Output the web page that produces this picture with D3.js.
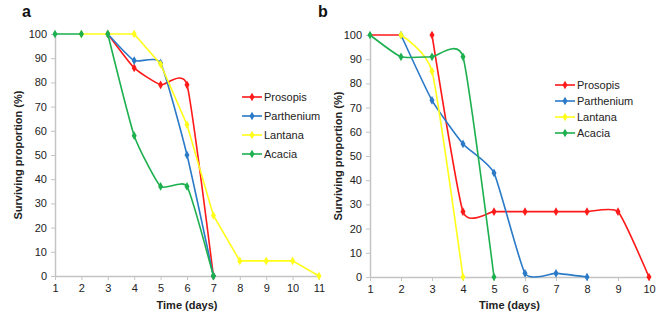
<!DOCTYPE html>
<html>
<head>
<meta charset="utf-8">
<script src="https://cdn.jsdelivr.net/npm/d3@7"></script>
<style>
  body { margin: 0; background: #fff; }
  svg text { font-family: "Liberation Sans", Arial, sans-serif; }
</style>
</head>
<body>
<div id="chart"></div>
<script>
"use strict";

// series names and colours
const seriesNames = ["Prosopis", "Parthenium", "Lantana", "Acacia"];
const seriesColors = ["#ff1a1a", "#2a7ac8", "#ffff1a", "#1db04f"];

// panel a: days 1..11
const daysA = [1, 2, 3, 4, 5, 6, 7, 8, 9, 10, 11];
const prosopisA = [null, null, 100, 86, 79, 79, 0, null, null, null, null];
const partheniumA = [null, null, 100, 89, 88, 50, 0, null, null, null, null];
const lantanaA = [null, 100, 100, 100, 87.5, 62.5, 25, 6.25, 6.25, 6.25, 0];
const acaciaA = [100, 100, null, 100, 58, 37, 37, 0];
// acacia gap: its point at day 3 starts a new segment
const acaciaDaysA = [1, 2, 2.5, 3, 4, 5, 6, 7];

// panel b: days 1..10
const daysB = [1, 2, 3, 4, 5, 6, 7, 8, 9, 10];
const prosopisB = [100, 100, null, 100, 27, 27, 27, 27, 27, 27, 0];
const prosopisDaysB = [1, 2, 2.5, 3, 4, 5, 6, 7, 8, 9, 10];
const partheniumB = [null, 100, 73, 55, 43, 1.5, 1.5, 0, null, null];
const lantanaB = [null, 100, 85, 0, null, null, null, null, null, null];
const acaciaB = [100, 91, 91, 91, 0, null, null, null, null, null];

const yTicks = [0, 10, 20, 30, 40, 50, 60, 70, 80, 90, 100];

const W = 669, H = 320;
const svg = d3.select("#chart").append("svg")
  .attr("width", W).attr("height", H);

const toPts = (xs, ys) => xs.map((d, i) => ({ x: d, y: ys[i] }));

const drawPanel = (opt) => {
  const x = d3.scaleLinear().domain(opt.xDomain).range(opt.xRange);
  const y = d3.scaleLinear().domain([0, 100]).range(opt.yRange);
  const g = svg.append("g");

  // axes
  const xAxis = g.append("g")
    .attr("transform", `translate(0,${opt.yRange[0]})`)
    .call(d3.axisBottom(x).tickValues(opt.xTicks).tickFormat(d3.format("d"))
      .tickSize(4).tickPadding(4).tickSizeOuter(0));
  const yAxis = g.append("g")
    .attr("transform", `translate(${opt.xRange[0]},0)`)
    .call(d3.axisLeft(y).tickValues(yTicks).tickSize(4).tickPadding(4).tickSizeOuter(0));
  [xAxis, yAxis].forEach(a => {
    a.select(".domain").attr("stroke", "#c4c4c4").attr("stroke-width", 1.5);
    a.selectAll(".tick line").attr("stroke", "#c4c4c4").attr("stroke-width", 1);
    a.selectAll(".tick text").attr("font-size", 11).attr("fill", "#222")
      .style("font-family", "Liberation Sans, Arial, sans-serif");
  });

  // series
  opt.series.forEach((s, i) => {
    const pts = toPts(s.days, s.values);
    const line = d3.line()
      .defined(d => d.y !== null)
      .x(d => x(d.x)).y(d => y(d.y))
      .curve(s.straight ? d3.curveLinear : d3.curveCardinal.tension(0.5));
    g.append("path")
      .attr("d", line(pts))
      .attr("fill", "none")
      .attr("stroke", seriesColors[i])
      .attr("stroke-width", 1.6);
    g.selectAll(null)
      .data(pts.filter(d => d.y !== null && s.marks.includes(d.x)))
      .enter().append("path")
      .attr("d", d3.symbol(d3.symbolDiamond, 22)())
      .attr("transform", d => `translate(${x(d.x)},${y(d.y)})`)
      .attr("fill", seriesColors[i]);
  });

  // legend
  seriesNames.forEach((name, i) => {
    const ly = opt.legend.y + i * opt.legend.dy;
    g.append("line")
      .attr("x1", opt.legend.x).attr("x2", opt.legend.x + 20)
      .attr("y1", ly).attr("y2", ly)
      .attr("stroke", seriesColors[i]).attr("stroke-width", 1.6);
    g.append("path")
      .attr("d", d3.symbol(d3.symbolDiamond, 22)())
      .attr("transform", `translate(${opt.legend.x + 10},${ly})`)
      .attr("fill", seriesColors[i]);
    g.append("text")
      .attr("x", opt.legend.x + 22).attr("y", ly + 4)
      .attr("font-size", 11).attr("fill", "#222")
      .text(name);
  });

  // titles
  g.append("text")
    .attr("x", (opt.xRange[0] + opt.xRange[1]) / 2).attr("y", 309)
    .attr("text-anchor", "middle").attr("font-size", 11).attr("font-weight", "bold")
    .attr("fill", "#222")
    .text("Time (days)");
  g.append("text")
    .attr("transform", `translate(${opt.yTitleX},${(opt.yRange[0] + opt.yRange[1]) / 2}) rotate(-90)`)
    .attr("text-anchor", "middle").attr("font-size", 11).attr("font-weight", "bold")
    .attr("fill", "#222")
    .text("Surviving proportion (%)");
  g.append("text")
    .attr("x", opt.label.x).attr("y", opt.label.y)
    .attr("font-size", 16).attr("font-weight", "bold").attr("fill", "#111")
    .text(opt.label.text);
};

drawPanel({
  xDomain: [1, 11], xRange: [55, 319], yRange: [276, 34],
  xTicks: daysA,
  yTitleX: 22,
  label: { x: 22, y: 17, text: "a" },
  legend: { x: 242, y: 97, dy: 19 },
  series: [
    { days: daysA, values: prosopisA, marks: daysA },
    { days: daysA, values: partheniumA, marks: daysA },
    { days: daysA, values: lantanaA, marks: daysA, straight: true },
    { days: acaciaDaysA, values: acaciaA, marks: daysA }
  ]
});

drawPanel({
  xDomain: [1, 10], xRange: [370, 649], yRange: [277, 35],
  xTicks: daysB,
  yTitleX: 342,
  label: { x: 318, y: 17, text: "b" },
  legend: { x: 555, y: 85, dy: 16 },
  series: [
    { days: prosopisDaysB, values: prosopisB, marks: [3, 4, 5, 6, 7, 8, 9, 10] },
    { days: daysB, values: partheniumB, marks: daysB },
    { days: daysB, values: lantanaB, marks: daysB },
    { days: daysB, values: acaciaB, marks: daysB }
  ]
});
</script>
</body>
</html>
